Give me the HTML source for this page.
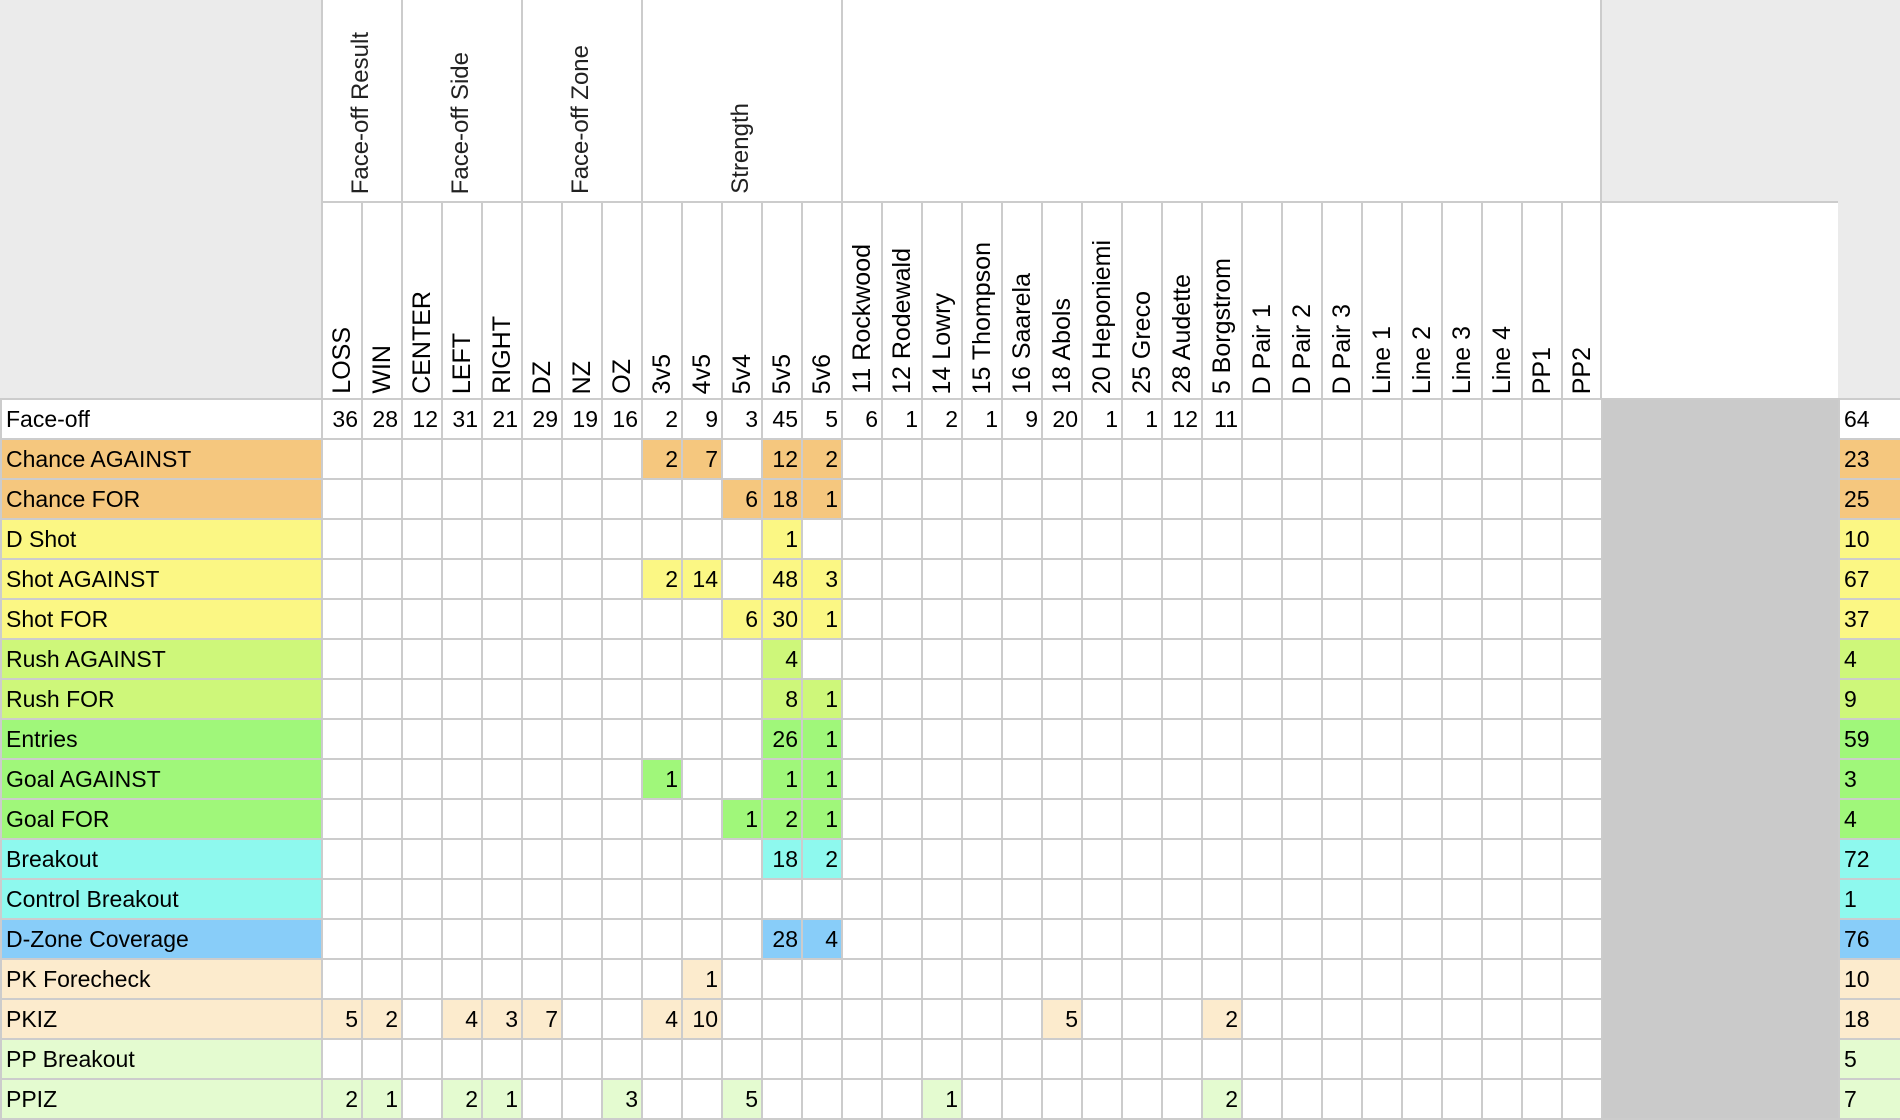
<!DOCTYPE html>
<html><head><meta charset="utf-8">
<style>
*{margin:0;padding:0;box-sizing:border-box}
body{width:1900px;height:1118px;overflow:hidden;background:#fff;position:relative;font-family:"Liberation Sans",Arial,sans-serif;color:#000}
.a{position:absolute}
.g{background:#ebebeb}
.v{position:absolute;background:#ccc;width:2px}
.h{position:absolute;background:#ccc;height:2px}
.gh{position:absolute;top:0;height:194px;display:flex;flex-direction:column;justify-content:flex-end;align-items:center}
.gh span{writing-mode:vertical-rl;transform:rotate(180deg);font-size:24px;color:#222;line-height:1;white-space:nowrap}
.ch{position:absolute;top:202px;width:40px;height:192px;display:flex;flex-direction:column;justify-content:flex-end;align-items:center}
.ch span{writing-mode:vertical-rl;transform:rotate(180deg);font-size:25px;line-height:1;white-space:nowrap}
table{position:absolute;left:0;top:398px;border-collapse:separate;border-spacing:2px;background:#ccc;font-size:23px}
td{width:38px;min-width:38px;height:38px;background:#fff;text-align:right;padding:0 3px 0 0;line-height:38px;white-space:nowrap}
td.l{width:319px;min-width:319px;text-align:left;padding-left:4px}
td.gr{width:235px;min-width:235px;background:#cacaca}
td.t{width:70px;min-width:70px;text-align:left;padding-left:4px}
.o{background:#f5c77e}.y{background:#fbf784}.lg{background:#cef77a}.gn{background:#a0f77a}.c{background:#8ef9ee}.b{background:#88cdf9}.p{background:#fcebcd}.pg{background:#e4fbd0}
</style></head><body>
<div class="a g" style="left:0;top:0;width:321px;height:398px"></div>
<div class="a g" style="left:1601px;top:0;width:299px;height:202px"></div>
<div class="a g" style="left:1838px;top:202px;width:62px;height:198px"></div>
<div class="v" style="left:321px;top:0;height:400px"></div>
<div class="v" style="left:401px;top:0;height:202px"></div>
<div class="v" style="left:521px;top:0;height:202px"></div>
<div class="v" style="left:641px;top:0;height:202px"></div>
<div class="v" style="left:841px;top:0;height:202px"></div>
<div class="v" style="left:1600px;top:0;height:400px"></div>
<div class="h" style="left:321px;top:201px;width:1517px"></div>
<div class="gh" style="left:321px;width:80px"><span>Face-off Result</span></div>
<div class="gh" style="left:401px;width:120px"><span>Face-off Side</span></div>
<div class="gh" style="left:521px;width:120px"><span>Face-off Zone</span></div>
<div class="gh" style="left:641px;width:200px"><span>Strength</span></div>
<div class="v" style="left:361px;top:202px;height:198px"></div><div class="v" style="left:401px;top:202px;height:198px"></div><div class="v" style="left:441px;top:202px;height:198px"></div><div class="v" style="left:481px;top:202px;height:198px"></div><div class="v" style="left:521px;top:202px;height:198px"></div><div class="v" style="left:561px;top:202px;height:198px"></div><div class="v" style="left:601px;top:202px;height:198px"></div><div class="v" style="left:641px;top:202px;height:198px"></div><div class="v" style="left:681px;top:202px;height:198px"></div><div class="v" style="left:721px;top:202px;height:198px"></div><div class="v" style="left:761px;top:202px;height:198px"></div><div class="v" style="left:801px;top:202px;height:198px"></div><div class="v" style="left:841px;top:202px;height:198px"></div><div class="v" style="left:881px;top:202px;height:198px"></div><div class="v" style="left:921px;top:202px;height:198px"></div><div class="v" style="left:961px;top:202px;height:198px"></div><div class="v" style="left:1001px;top:202px;height:198px"></div><div class="v" style="left:1041px;top:202px;height:198px"></div><div class="v" style="left:1081px;top:202px;height:198px"></div><div class="v" style="left:1121px;top:202px;height:198px"></div><div class="v" style="left:1161px;top:202px;height:198px"></div><div class="v" style="left:1201px;top:202px;height:198px"></div><div class="v" style="left:1241px;top:202px;height:198px"></div><div class="v" style="left:1281px;top:202px;height:198px"></div><div class="v" style="left:1321px;top:202px;height:198px"></div><div class="v" style="left:1361px;top:202px;height:198px"></div><div class="v" style="left:1401px;top:202px;height:198px"></div><div class="v" style="left:1441px;top:202px;height:198px"></div><div class="v" style="left:1481px;top:202px;height:198px"></div><div class="v" style="left:1521px;top:202px;height:198px"></div><div class="v" style="left:1561px;top:202px;height:198px"></div>
<div class="ch" style="left:322px"><span>LOSS</span></div><div class="ch" style="left:362px"><span>WIN</span></div><div class="ch" style="left:402px"><span>CENTER</span></div><div class="ch" style="left:442px"><span>LEFT</span></div><div class="ch" style="left:482px"><span>RIGHT</span></div><div class="ch" style="left:522px"><span>DZ</span></div><div class="ch" style="left:562px"><span>NZ</span></div><div class="ch" style="left:602px"><span>OZ</span></div><div class="ch" style="left:642px"><span>3v5</span></div><div class="ch" style="left:682px"><span>4v5</span></div><div class="ch" style="left:722px"><span>5v4</span></div><div class="ch" style="left:762px"><span>5v5</span></div><div class="ch" style="left:802px"><span>5v6</span></div><div class="ch" style="left:842px"><span>11 Rockwood</span></div><div class="ch" style="left:882px"><span>12 Rodewald</span></div><div class="ch" style="left:922px"><span>14 Lowry</span></div><div class="ch" style="left:962px"><span>15 Thompson</span></div><div class="ch" style="left:1002px"><span>16 Saarela</span></div><div class="ch" style="left:1042px"><span>18 Abols</span></div><div class="ch" style="left:1082px"><span>20 Heponiemi</span></div><div class="ch" style="left:1122px"><span>25 Greco</span></div><div class="ch" style="left:1162px"><span>28 Audette</span></div><div class="ch" style="left:1202px"><span>5 Borgstrom</span></div><div class="ch" style="left:1242px"><span>D Pair 1</span></div><div class="ch" style="left:1282px"><span>D Pair 2</span></div><div class="ch" style="left:1322px"><span>D Pair 3</span></div><div class="ch" style="left:1362px"><span>Line 1</span></div><div class="ch" style="left:1402px"><span>Line 2</span></div><div class="ch" style="left:1442px"><span>Line 3</span></div><div class="ch" style="left:1482px"><span>Line 4</span></div><div class="ch" style="left:1522px"><span>PP1</span></div><div class="ch" style="left:1562px"><span>PP2</span></div>
<table>
<tr><td class="l">Face-off</td><td>36</td><td>28</td><td>12</td><td>31</td><td>21</td><td>29</td><td>19</td><td>16</td><td>2</td><td>9</td><td>3</td><td>45</td><td>5</td><td>6</td><td>1</td><td>2</td><td>1</td><td>9</td><td>20</td><td>1</td><td>1</td><td>12</td><td>11</td><td></td><td></td><td></td><td></td><td></td><td></td><td></td><td></td><td></td><td class="gr" rowspan="18"></td><td class="t">64</td></tr>
<tr><td class="l o">Chance AGAINST</td><td></td><td></td><td></td><td></td><td></td><td></td><td></td><td></td><td class="o">2</td><td class="o">7</td><td></td><td class="o">12</td><td class="o">2</td><td></td><td></td><td></td><td></td><td></td><td></td><td></td><td></td><td></td><td></td><td></td><td></td><td></td><td></td><td></td><td></td><td></td><td></td><td></td><td class="t o">23</td></tr>
<tr><td class="l o">Chance FOR</td><td></td><td></td><td></td><td></td><td></td><td></td><td></td><td></td><td></td><td></td><td class="o">6</td><td class="o">18</td><td class="o">1</td><td></td><td></td><td></td><td></td><td></td><td></td><td></td><td></td><td></td><td></td><td></td><td></td><td></td><td></td><td></td><td></td><td></td><td></td><td></td><td class="t o">25</td></tr>
<tr><td class="l y">D Shot</td><td></td><td></td><td></td><td></td><td></td><td></td><td></td><td></td><td></td><td></td><td></td><td class="y">1</td><td></td><td></td><td></td><td></td><td></td><td></td><td></td><td></td><td></td><td></td><td></td><td></td><td></td><td></td><td></td><td></td><td></td><td></td><td></td><td></td><td class="t y">10</td></tr>
<tr><td class="l y">Shot AGAINST</td><td></td><td></td><td></td><td></td><td></td><td></td><td></td><td></td><td class="y">2</td><td class="y">14</td><td></td><td class="y">48</td><td class="y">3</td><td></td><td></td><td></td><td></td><td></td><td></td><td></td><td></td><td></td><td></td><td></td><td></td><td></td><td></td><td></td><td></td><td></td><td></td><td></td><td class="t y">67</td></tr>
<tr><td class="l y">Shot FOR</td><td></td><td></td><td></td><td></td><td></td><td></td><td></td><td></td><td></td><td></td><td class="y">6</td><td class="y">30</td><td class="y">1</td><td></td><td></td><td></td><td></td><td></td><td></td><td></td><td></td><td></td><td></td><td></td><td></td><td></td><td></td><td></td><td></td><td></td><td></td><td></td><td class="t y">37</td></tr>
<tr><td class="l lg">Rush AGAINST</td><td></td><td></td><td></td><td></td><td></td><td></td><td></td><td></td><td></td><td></td><td></td><td class="lg">4</td><td></td><td></td><td></td><td></td><td></td><td></td><td></td><td></td><td></td><td></td><td></td><td></td><td></td><td></td><td></td><td></td><td></td><td></td><td></td><td></td><td class="t lg">4</td></tr>
<tr><td class="l lg">Rush FOR</td><td></td><td></td><td></td><td></td><td></td><td></td><td></td><td></td><td></td><td></td><td></td><td class="lg">8</td><td class="lg">1</td><td></td><td></td><td></td><td></td><td></td><td></td><td></td><td></td><td></td><td></td><td></td><td></td><td></td><td></td><td></td><td></td><td></td><td></td><td></td><td class="t lg">9</td></tr>
<tr><td class="l gn">Entries</td><td></td><td></td><td></td><td></td><td></td><td></td><td></td><td></td><td></td><td></td><td></td><td class="gn">26</td><td class="gn">1</td><td></td><td></td><td></td><td></td><td></td><td></td><td></td><td></td><td></td><td></td><td></td><td></td><td></td><td></td><td></td><td></td><td></td><td></td><td></td><td class="t gn">59</td></tr>
<tr><td class="l gn">Goal AGAINST</td><td></td><td></td><td></td><td></td><td></td><td></td><td></td><td></td><td class="gn">1</td><td></td><td></td><td class="gn">1</td><td class="gn">1</td><td></td><td></td><td></td><td></td><td></td><td></td><td></td><td></td><td></td><td></td><td></td><td></td><td></td><td></td><td></td><td></td><td></td><td></td><td></td><td class="t gn">3</td></tr>
<tr><td class="l gn">Goal FOR</td><td></td><td></td><td></td><td></td><td></td><td></td><td></td><td></td><td></td><td></td><td class="gn">1</td><td class="gn">2</td><td class="gn">1</td><td></td><td></td><td></td><td></td><td></td><td></td><td></td><td></td><td></td><td></td><td></td><td></td><td></td><td></td><td></td><td></td><td></td><td></td><td></td><td class="t gn">4</td></tr>
<tr><td class="l c">Breakout</td><td></td><td></td><td></td><td></td><td></td><td></td><td></td><td></td><td></td><td></td><td></td><td class="c">18</td><td class="c">2</td><td></td><td></td><td></td><td></td><td></td><td></td><td></td><td></td><td></td><td></td><td></td><td></td><td></td><td></td><td></td><td></td><td></td><td></td><td></td><td class="t c">72</td></tr>
<tr><td class="l c">Control Breakout</td><td></td><td></td><td></td><td></td><td></td><td></td><td></td><td></td><td></td><td></td><td></td><td></td><td></td><td></td><td></td><td></td><td></td><td></td><td></td><td></td><td></td><td></td><td></td><td></td><td></td><td></td><td></td><td></td><td></td><td></td><td></td><td></td><td class="t c">1</td></tr>
<tr><td class="l b">D-Zone Coverage</td><td></td><td></td><td></td><td></td><td></td><td></td><td></td><td></td><td></td><td></td><td></td><td class="b">28</td><td class="b">4</td><td></td><td></td><td></td><td></td><td></td><td></td><td></td><td></td><td></td><td></td><td></td><td></td><td></td><td></td><td></td><td></td><td></td><td></td><td></td><td class="t b">76</td></tr>
<tr><td class="l p">PK Forecheck</td><td></td><td></td><td></td><td></td><td></td><td></td><td></td><td></td><td></td><td class="p">1</td><td></td><td></td><td></td><td></td><td></td><td></td><td></td><td></td><td></td><td></td><td></td><td></td><td></td><td></td><td></td><td></td><td></td><td></td><td></td><td></td><td></td><td></td><td class="t p">10</td></tr>
<tr><td class="l p">PKIZ</td><td class="p">5</td><td class="p">2</td><td></td><td class="p">4</td><td class="p">3</td><td class="p">7</td><td></td><td></td><td class="p">4</td><td class="p">10</td><td></td><td></td><td></td><td></td><td></td><td></td><td></td><td></td><td class="p">5</td><td></td><td></td><td></td><td class="p">2</td><td></td><td></td><td></td><td></td><td></td><td></td><td></td><td></td><td></td><td class="t p">18</td></tr>
<tr><td class="l pg">PP Breakout</td><td></td><td></td><td></td><td></td><td></td><td></td><td></td><td></td><td></td><td></td><td></td><td></td><td></td><td></td><td></td><td></td><td></td><td></td><td></td><td></td><td></td><td></td><td></td><td></td><td></td><td></td><td></td><td></td><td></td><td></td><td></td><td></td><td class="t pg">5</td></tr>
<tr><td class="l pg">PPIZ</td><td class="pg">2</td><td class="pg">1</td><td></td><td class="pg">2</td><td class="pg">1</td><td></td><td></td><td class="pg">3</td><td></td><td></td><td class="pg">5</td><td></td><td></td><td></td><td></td><td class="pg">1</td><td></td><td></td><td></td><td></td><td></td><td></td><td class="pg">2</td><td></td><td></td><td></td><td></td><td></td><td></td><td></td><td></td><td></td><td class="t pg">7</td></tr>
</table>
</body></html>
